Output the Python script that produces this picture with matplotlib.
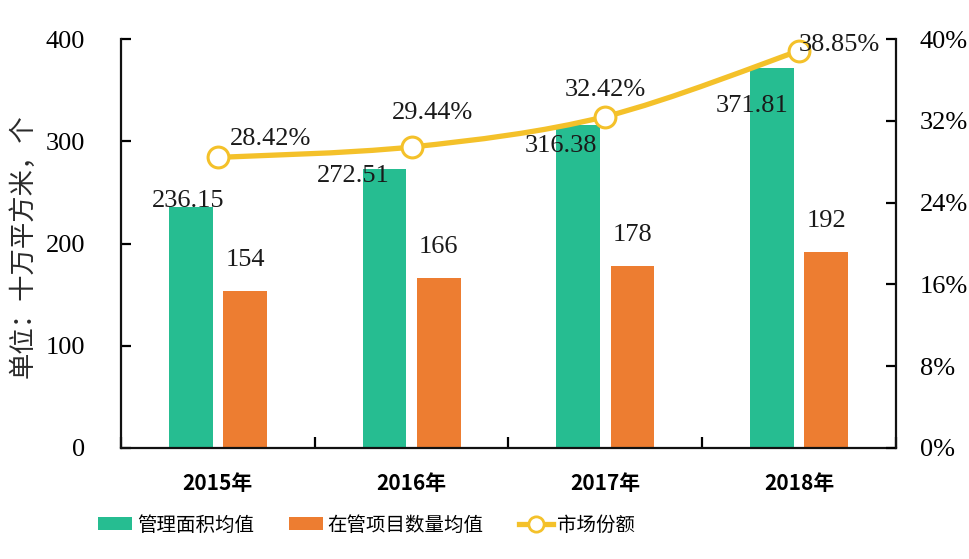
import matplotlib
matplotlib.use("Agg")
import matplotlib.pyplot as plt
from matplotlib.path import Path
from matplotlib.patches import PathPatch
from matplotlib.lines import Line2D
from matplotlib.patches import Patch
import numpy as np

plt.rcParams['font.family'] = ['Noto Sans CJK SC', 'DejaVu Sans']

years = ['2015年', '2016年', '2017年', '2018年']
area_avg = [236.15, 272.51, 316.38, 371.81]
project_avg = [154, 166, 178, 192]
market_share = [0.2842, 0.2944, 0.3242, 0.3885]
area_labels = ['236.15', '272.51', '316.38', '371.81']
project_labels = ['154', '166', '178', '192']
share_labels = ['28.42%', '29.44%', '32.42%', '38.85%']
left_ticks = [0, 100, 200, 300, 400]
right_ticks = [0, 0.08, 0.16, 0.24, 0.32, 0.40]
right_tick_labels = ['0%', '8%', '16%', '24%', '32%', '40%']
legend_names = ['管理面积均值', '在管项目数量均值', '市场份额']

GREEN = '#26BD91'
ORANGE = '#ED7D31'
YELLOW = '#F4C12A'
TXT = '#1a1a1a'

fig = plt.figure(figsize=(9.7, 5.59), dpi=100)
ax = fig.add_axes([121/970, 1-448/559, (896-121)/970, (448-39)/559])
ax2 = ax.twinx()

x = np.arange(len(years))
off = 0.14
w = 0.227
ax.bar(x - off, area_avg, w, color=GREEN, zorder=2)
ax.bar(x + off, project_avg, w, color=ORANGE, zorder=2)

ax.set_xlim(-0.5, 3.5)
ax.set_ylim(0, 400)
ax2.set_ylim(0, 0.40)

serif = 'Liberation Serif'
ax.set_yticks(left_ticks)
ax.set_yticklabels([str(t) for t in left_ticks], fontfamily=serif, fontsize=19)
ax2.set_yticks(right_ticks)
ax2.set_yticklabels(right_tick_labels, fontfamily=serif, fontsize=19)

ax.set_xticks(x)
ax.set_xticklabels(years, fontsize=15, fontweight='bold')
ax.set_xticks(np.arange(-0.5, 4.0, 1.0), minor=True)
ax.tick_params(axis='x', which='major', length=0, pad=18)
ax.tick_params(axis='x', which='minor', direction='in', length=8, width=1.6)
ax.tick_params(axis='y', direction='in', length=7, width=1.6, pad=26)
ax2.tick_params(axis='y', direction='in', length=7, width=1.6, pad=17)

for a in (ax, ax2):
    a.spines['top'].set_visible(False)
    for s in ('left', 'right', 'bottom'):
        a.spines[s].set_linewidth(1.6)
        a.spines[s].set_color('#111111')
ax.spines['right'].set_visible(False)
ax2.spines['left'].set_visible(False)
ax2.spines['bottom'].set_visible(False)

# smooth line through the points (Bezier path)
pts = np.column_stack([x, market_share]).astype(float)
ext = np.vstack([pts[0], pts, pts[-1]])
verts = [tuple(pts[0])]
codes = [Path.MOVETO]
for i in range(len(pts) - 1):
    p0, p1, p2, p3 = ext[i], ext[i+1], ext[i+2], ext[i+3]
    c1 = p1 + (p2 - p0) / 6.0
    c2 = p2 - (p3 - p1) / 6.0
    verts += [tuple(c1), tuple(c2), tuple(p2)]
    codes += [Path.CURVE4] * 3
ax2.add_patch(PathPatch(Path(verts, codes), facecolor='none', edgecolor=YELLOW,
                        lw=3.8, capstyle='round', zorder=3))
ax2.plot(x, market_share, linestyle='none', marker='o', markersize=15,
         markerfacecolor='white', markeredgecolor=YELLOW, markeredgewidth=2.2, zorder=4)

lab_font = dict(fontfamily=serif, fontsize=19, color=TXT, ha='center', va='center')
area_off = [(-3, 6), (-31, -7), (-17, -21), (-20, -38)]
for i, (v, t) in enumerate(zip(area_avg, area_labels)):
    ax.annotate(t, (x[i] - off, v), xytext=area_off[i], textcoords='offset pixels',
                zorder=5, **lab_font)
for i, (v, t) in enumerate(zip(project_avg, project_labels)):
    ax.annotate(t, (x[i] + off, v), xytext=(0, 31), textcoords='offset pixels',
                zorder=5, **lab_font)
share_off = [(53, 18), (21, 34), (0, 27), (40, 6)]
for i, (v, t) in enumerate(zip(market_share, share_labels)):
    ax2.annotate(t, (x[i], v), xytext=share_off[i], textcoords='offset pixels',
                 zorder=6, **lab_font)

fig.text(23/970, 1-246/559, '单位：十万平方米，个', rotation=90, fontsize=19,
         color='#2a2a2a', ha='center', va='center')

handles = [Patch(facecolor=GREEN, edgecolor='none'),
           Patch(facecolor=ORANGE, edgecolor='none'),
           Line2D([0], [0], color=YELLOW, lw=3.8, marker='o', markersize=11,
                  markerfacecolor='white', markeredgecolor=YELLOW, markeredgewidth=2)]
fig.legend(handles, legend_names, loc='center left', bbox_to_anchor=(92/970, 1-525/559),
           ncol=3, frameon=False, fontsize=14, handlelength=1.75, handletextpad=0.25,
           columnspacing=1.8, handleheight=0.62, borderaxespad=0, borderpad=0.3)

fig.savefig('out.png', dpi=100)
